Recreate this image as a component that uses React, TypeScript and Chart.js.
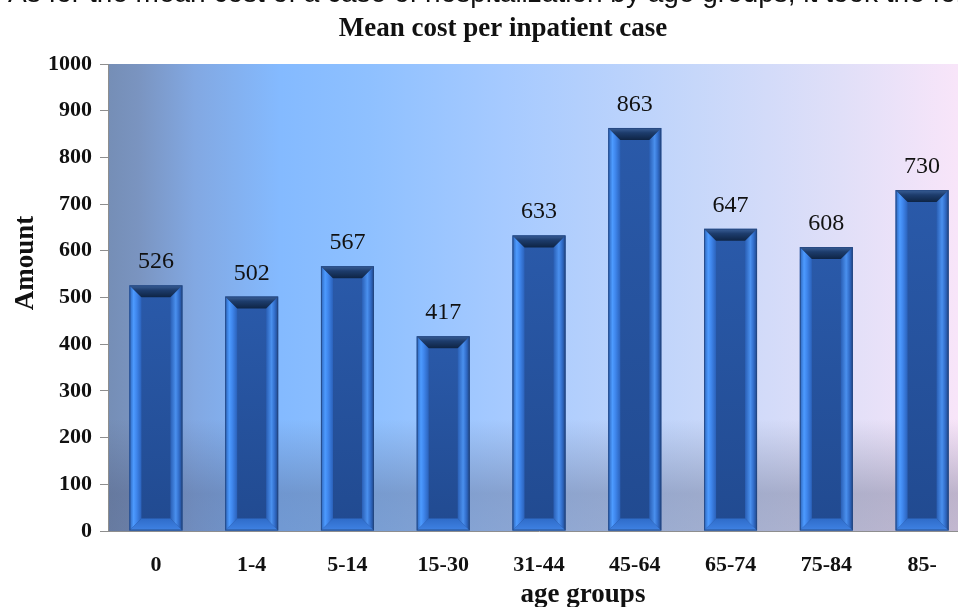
import { useEffect, useRef } from 'react';
import { Chart, registerables } from 'chart.js';

Chart.register(...registerables);

// ---- data ----
const categories = ['0', '1-4', '5-14', '15-30', '31-44', '45-64', '65-74', '75-84', '85-'];
const meanCost = [526, 502, 567, 417, 633, 863, 647, 608, 730];
const yMin = 0;
const yMax = 1000;
const yStep = 100;

const chartTitle = 'Mean cost per inpatient case';
const yAxisTitle = 'Amount';
const xAxisTitle = 'age groups';
const leadSentence =
  'As for the mean cost of a case of hospitalization by age groups, it took the following form:';

const serif = '"Liberation Serif", "Times New Roman", serif';

// plot-area backdrop: blue-to-lavender sweep with a darker haze near the floor
const backdrop = {
  id: 'backdrop',
  beforeDraw(chart: any) {
    const { ctx, chartArea: a } = chart;
    const w = a.right - a.left;
    const h = a.bottom - a.top;
    ctx.save();
    const g = ctx.createLinearGradient(a.left, 0, a.right, 0);
    g.addColorStop(0, '#758eb6');
    g.addColorStop(0.035, '#7a94c0');
    g.addColorStop(0.1, '#82a8e2');
    g.addColorStop(0.2, '#84baff');
    g.addColorStop(0.3, '#8ec0ff');
    g.addColorStop(0.46, '#a6caff');
    g.addColorStop(0.68, '#c6d7fa');
    g.addColorStop(0.85, '#e0dff8');
    g.addColorStop(0.985, '#f8e5f9');
    g.addColorStop(1, '#f9e6fa');
    ctx.fillStyle = g;
    ctx.fillRect(a.left, a.top, w, h);
    const v = ctx.createLinearGradient(0, a.top, 0, a.bottom);
    v.addColorStop(0, 'rgba(70,78,110,0)');
    v.addColorStop(0.76, 'rgba(70,78,110,0)');
    v.addColorStop(0.92, 'rgba(70,78,110,0.33)');
    v.addColorStop(1, 'rgba(70,78,110,0.3)');
    ctx.fillStyle = v;
    ctx.fillRect(a.left, a.top, w, h);
    ctx.restore();
  },
};

// bevelled column faces drawn over each bar element
const bevel = {
  id: 'bevel',
  afterDatasetsDraw(chart: any) {
    const ctx = chart.ctx;
    const meta = chart.getDatasetMeta(0);
    ctx.save();
    meta.data.forEach((bar: any) => {
      const { x, y, base, width } = bar.getProps(['x', 'y', 'base', 'width'], true);
      const x0 = x - width / 2;
      const x1 = x + width / 2;
      const y0 = y;
      const y1 = base;
      const b = Math.min(12, (y1 - y0) / 2);

      // face
      const face = ctx.createLinearGradient(0, y0, 0, y1);
      face.addColorStop(0, '#2a5aaa');
      face.addColorStop(1, '#214a90');
      ctx.fillStyle = face;
      ctx.fillRect(x0, y0, x1 - x0, y1 - y0);

      const poly = (pts: number[][], fill: any) => {
        ctx.beginPath();
        ctx.moveTo(pts[0][0], pts[0][1]);
        for (let i = 1; i < pts.length; i++) ctx.lineTo(pts[i][0], pts[i][1]);
        ctx.closePath();
        ctx.fillStyle = fill;
        ctx.fill();
      };

      // left bevel
      const lg = ctx.createLinearGradient(x0, 0, x0 + b, 0);
      lg.addColorStop(0, '#2c63b8');
      lg.addColorStop(0.35, '#4d9bff');
      lg.addColorStop(0.6, '#3f86ec');
      lg.addColorStop(1, '#2b62bb');
      poly([[x0, y0], [x0 + b, y0 + b], [x0 + b, y1 - b], [x0, y1]], lg);

      // right bevel
      const rg = ctx.createLinearGradient(x1 - b, 0, x1, 0);
      rg.addColorStop(0, '#2a5fb5');
      rg.addColorStop(0.45, '#4a90ee');
      rg.addColorStop(0.7, '#336fcc');
      rg.addColorStop(1, '#1f4689');
      poly([[x1, y0], [x1, y1], [x1 - b, y1 - b], [x1 - b, y0 + b]], rg);

      // top bevel
      const tg = ctx.createLinearGradient(0, y0, 0, y0 + b);
      tg.addColorStop(0, '#3b6098');
      tg.addColorStop(0.4, '#1d3c6c');
      tg.addColorStop(1, '#0e2444');
      poly([[x0, y0], [x1, y0], [x1 - b, y0 + b], [x0 + b, y0 + b]], tg);

      // bottom bevel
      const bg = ctx.createLinearGradient(0, y1 - b, 0, y1);
      bg.addColorStop(0, '#2f6cc9');
      bg.addColorStop(1, '#3f82e4');
      poly([[x0, y1], [x0 + b, y1 - b], [x1 - b, y1 - b], [x1, y1]], bg);

      // outline
      ctx.strokeStyle = 'rgba(36,70,126,0.8)';
      ctx.lineWidth = 1;
      ctx.strokeRect(x0 + 0.5, y0 + 0.5, x1 - x0 - 1, y1 - y0 - 1);
    });
    ctx.restore();
  },
};

// value labels above the columns
const valueLabels = {
  id: 'valueLabels',
  afterDatasetsDraw(chart: any) {
    const ctx = chart.ctx;
    const meta = chart.getDatasetMeta(0);
    const values = chart.data.datasets[0].data;
    ctx.save();
    ctx.font = `24px ${serif}`;
    ctx.fillStyle = '#111';
    ctx.textAlign = 'center';
    ctx.textBaseline = 'alphabetic';
    meta.data.forEach((bar: any, i: number) => {
      ctx.fillText(String(values[i]), bar.x, bar.y - 17);
    });
    ctx.restore();
  },
};

// chart title and axis titles
const titles = {
  id: 'titles',
  afterDraw(chart: any) {
    const { ctx, chartArea: a } = chart;
    ctx.save();
    ctx.fillStyle = '#111';
    ctx.font = `bold 27px ${serif}`;
    ctx.textAlign = 'center';
    ctx.textBaseline = 'alphabetic';
    ctx.fillText(chartTitle, 503, 36);
    ctx.fillText(xAxisTitle, a.left + 475, 602);
    ctx.translate(33, a.top + 199);
    ctx.rotate(-Math.PI / 2);
    ctx.fillText(yAxisTitle, 0, 0);
    ctx.restore();
  },
};

export default function App() {
  const ref = useRef<HTMLCanvasElement>(null);

  useEffect(() => {
    Chart.defaults.font.family = serif;
    const chart = new Chart(ref.current!, {
      type: 'bar',
      data: {
        labels: categories,
        datasets: [
          {
            data: meanCost,
            backgroundColor: 'rgba(0,0,0,0)',
            borderWidth: 0,
            categoryPercentage: 1,
            barPercentage: 0.553,
          },
        ],
      },
      options: {
        animation: false,
        responsive: true,
        maintainAspectRatio: false,
        layout: { padding: { top: 64, right: 30, bottom: 0, left: 0 } },
        plugins: {
          legend: { display: false },
          title: { display: false },
          tooltip: { enabled: false },
        },
        scales: {
          x: {
            grid: { display: false, drawTicks: false },
            border: { display: true, color: '#8e8e8e' },
            ticks: {
              color: '#111',
              padding: 21,
              font: { family: serif, size: 22, weight: 'bold' },
              maxRotation: 0,
            },
            afterFit(scale: any) {
              scale.height = 76;
            },
          },
          y: {
            min: yMin,
            max: yMax,
            ticks: {
              stepSize: yStep,
              color: '#111',
              padding: 8,
              font: { family: serif, size: 22, weight: 'bold' },
              callback: (v: any) => String(v),
            },
            grid: { drawOnChartArea: false, tickLength: 8, color: '#8e8e8e' },
            border: { display: true, color: '#8e8e8e' },
            afterFit(scale: any) {
              scale.width = 108;
            },
          },
        },
      },
      plugins: [backdrop, bevel, valueLabels, titles],
    });
    return () => chart.destroy();
  }, []);

  return (
    <div
      style={{
        position: 'fixed',
        left: 0,
        top: 0,
        width: 958,
        height: 607,
        overflow: 'hidden',
        background: '#fff',
      }}
    >
      <div style={{ position: 'absolute', left: 0, top: 0, width: 1000, height: 607 }}>
        <canvas ref={ref} />
      </div>
      <div
        style={{
          position: 'absolute',
          left: 8,
          top: -21,
          whiteSpace: 'nowrap',
          font: '28px "Liberation Sans", Arial, sans-serif',
          lineHeight: '28px',
          color: '#111',
        }}
      >
        {leadSentence}
      </div>
    </div>
  );
}
